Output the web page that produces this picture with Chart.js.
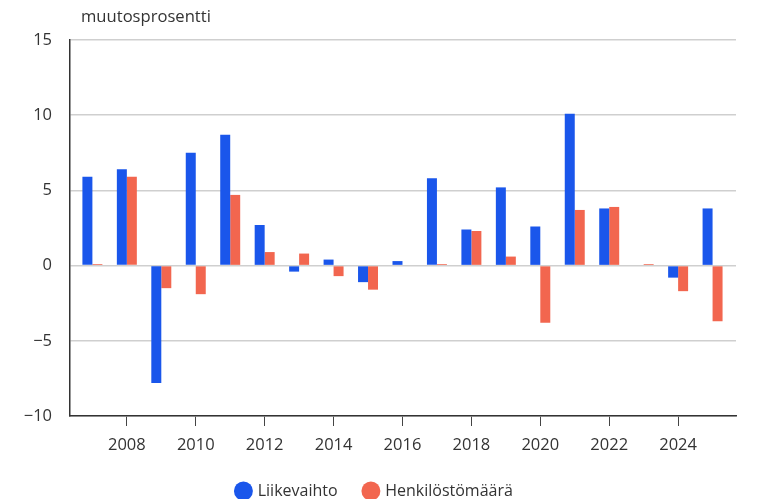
<!DOCTYPE html>
<html>
<head>
<meta charset="utf-8">
<script src="https://cdn.jsdelivr.net/npm/chart.js@4/dist/chart.umd.min.js"></script>
<style>
html,body{margin:0;padding:0;background:#fff;}
#wrap{width:758px;height:499px;position:relative;}
</style>
</head>
<body>
<div id="wrap"><canvas id="c" width="758" height="499"></canvas></div>
<script>
const years = [2007,2008,2009,2010,2011,2012,2013,2014,2015,2016,2017,2018,2019,2020,2021,2022,2023,2024,2025];
const liikevaihto = [5.9,6.4,-7.8,7.5,8.7,2.7,-0.4,0.4,-1.1,0.3,5.8,2.4,5.2,2.6,10.1,3.8,0,-0.8,3.8];
const henkilostomaara = [0.1,5.9,-1.5,-1.9,4.7,0.9,0.8,-0.7,-1.6,0,0.1,2.3,0.6,-3.8,3.7,3.9,0.1,-1.7,-3.7];
const xTickYears = [2008,2010,2012,2014,2016,2018,2020,2022,2024];
const yTicks = [-10,-5,0,5,10,15];
const seriesNames = ['Liikevaihto','Henkilöstömäärä'];
const yTitle = 'muutosprosentti';

const FONT = "'Open Sans', 'Noto Sans', sans-serif";
const TXT = '#333333';

const titlePlugin = {
  id: 'yTitle',
  afterDraw(chart) {
    const ctx = chart.ctx;
    ctx.save();
    ctx.font = "16.6px " + FONT;
    ctx.fillStyle = TXT;
    ctx.textBaseline = 'middle';
    ctx.textAlign = 'left';
    ctx.fillText(yTitle, chart.chartArea.left + 11, 17);
    ctx.restore();
  }
};

new Chart(document.getElementById('c'), {
  type: 'bar',
  data: {
    datasets: [
      {
        label: seriesNames[0],
        data: years.map((y, i) => ({x: y, y: liikevaihto[i]})),
        backgroundColor: '#1a56eb',
        borderWidth: 0
      },
      {
        label: seriesNames[1],
        data: years.map((y, i) => ({x: y, y: henkilostomaara[i]})),
        backgroundColor: '#f2664f',
        borderWidth: 0
      }
    ]
  },
  plugins: [titlePlugin],
  options: {
    responsive: false,
    animation: false,
    devicePixelRatio: 1,
    layout: { padding: { top: 40, right: 22, left: 14, bottom: -10 } },
    datasets: { bar: { categoryPercentage: 0.58, barPercentage: 1.0 } },
    scales: {
      x: {
        type: 'linear',
        min: 2006.35,
        max: 2025.68,
        offset: false,
        afterBuildTicks(axis) { axis.ticks = xTickYears.map(v => ({value: v})); },
        afterFit(scale) { scale.height = 40; },
        ticks: {
          callback: v => String(v),
          color: TXT,
          font: { family: FONT, size: 16.5 },
          padding: 9,
          maxRotation: 0,
          autoSkip: false
        },
        grid: {
          offset: false,
          drawOnChartArea: false,
          drawTicks: true,
          tickLength: 10,
          color: '#444444',
          lineWidth: 1
        },
        border: { display: true, color: '#333333', width: 1.5 }
      },
      y: {
        min: -10,
        max: 15,
        afterBuildTicks(axis) { axis.ticks = yTicks.map(v => ({value: v})); },
        afterFit(scale) { scale.width = 56; },
        ticks: {
          callback: v => (v < 0 ? '\u2212' + Math.abs(v) : String(v)),
          color: TXT,
          font: { family: FONT, size: 16.5 },
          padding: 18
        },
        grid: {
          drawTicks: false,
          color: '#cfcfcf',
          lineWidth: 1.5
        },
        border: { display: true, color: '#333333', width: 1.5 }
      }
    },
    plugins: {
      legend: {
        position: 'bottom',
        labels: {
          usePointStyle: true,
          pointStyle: 'circle',
          boxWidth: 12.6,
          boxHeight: 13.4,
          padding: 27,
          color: TXT,
          font: { family: FONT, size: 16 }
        }
      },
      tooltip: { enabled: false },
      title: { display: false }
    }
  }
});
</script>
</body>
</html>
